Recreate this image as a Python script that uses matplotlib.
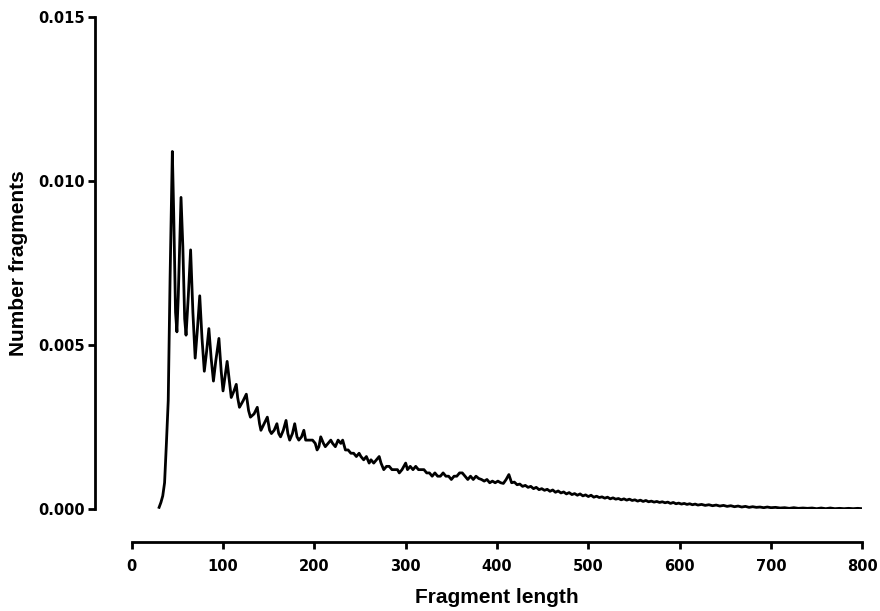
import matplotlib.pyplot as plt

# fragment length (bp) and fraction of fragments
# up to ~416 bp (nucleosome ladder region)
len_head = [30, 32, 34, 36, 38, 40, 42, 44.5, 46, 48, 49.5, 51, 54, 56, 58, 59.5,
            62, 64.5, 67, 69.5, 72, 74.5, 77, 79.5, 82, 84.5, 87, 89.5, 92, 95.5,
            98, 100, 102, 104.5, 107, 109, 112, 114.5, 116, 118, 122, 125.5, 128,
            130, 134, 137.5, 140, 141.5, 145, 148.5, 151, 153, 156, 159, 161, 163,
            166, 169, 171, 173, 176, 178.5, 181, 183, 186, 188.5, 190.5, 193, 196,
            198, 201, 203, 205, 207, 210, 212, 215, 218, 220, 223, 226, 229, 231,
            234, 237, 240, 243, 246, 249, 251, 254, 257, 260, 262, 265, 268, 271,
            273, 276, 279, 282, 285, 288, 291, 293, 296, 300, 302, 305, 308, 311,
            314, 317, 320, 323, 326, 329, 332, 335, 338, 341, 344, 347, 350, 353,
            356, 359, 362, 365, 368, 371, 374, 377, 380, 383, 386, 389, 392, 395,
            398, 401, 404, 407, 410, 413, 416]
frac_head = [0.00005, 0.0002, 0.0004, 0.0008, 0.0020, 0.0033, 0.0070, 0.0109, 0.0090,
             0.0060, 0.0054, 0.0065, 0.0095, 0.0080, 0.0058, 0.0053, 0.0065, 0.0079,
             0.0060, 0.0046, 0.0055, 0.0065, 0.0052, 0.0042, 0.0048, 0.0055, 0.0046,
             0.0039, 0.0045, 0.0052, 0.0042, 0.0036, 0.0040, 0.0045, 0.0039, 0.0034,
             0.0036, 0.0038, 0.0034, 0.0031, 0.0033, 0.0035, 0.0030, 0.0028, 0.0029,
             0.0031, 0.0026, 0.0024, 0.0026, 0.0028, 0.0024, 0.0023, 0.0024, 0.0026,
             0.0023, 0.0022, 0.0024, 0.0027, 0.0023, 0.0021, 0.0023, 0.0026, 0.0022,
             0.0021, 0.0022, 0.0024, 0.0021, 0.0021, 0.0021, 0.0021, 0.0020, 0.0018,
             0.0019, 0.0022, 0.0020, 0.0019, 0.0020, 0.0021, 0.0020, 0.0019, 0.0021,
             0.0020, 0.0021, 0.0018, 0.0018, 0.0017, 0.0017, 0.0016, 0.0017, 0.0016,
             0.0015, 0.0016, 0.0014, 0.0015, 0.0014, 0.0015, 0.0016, 0.0014, 0.0012,
             0.0013, 0.0013, 0.0012, 0.0012, 0.0012, 0.0011, 0.0012, 0.0014, 0.0012,
             0.0013, 0.0012, 0.0013, 0.0012, 0.0012, 0.0012, 0.0011, 0.0011, 0.0010,
             0.0011, 0.0010, 0.0010, 0.0011, 0.0010, 0.0010, 0.0009, 0.0010, 0.0010,
             0.0011, 0.0011, 0.0010, 0.0009, 0.0010, 0.0009, 0.0010, 0.00093, 0.0009,
             0.00085, 0.0009, 0.0008, 0.00085, 0.0008, 0.00085, 0.0008, 0.00078,
             0.0009, 0.00105, 0.0008]
# long-fragment tail
len_tail = [419, 422, 425, 428, 431, 434, 437, 440, 443, 446, 449, 452, 455, 458,
            461, 464, 467, 470, 473, 476, 479, 482, 485, 488, 491, 494, 497, 500,
            503, 506, 509, 512, 515, 518, 521, 524, 527, 530, 533, 536, 539, 542,
            545, 548, 551, 554, 557, 560, 563, 566, 569, 572, 575, 578, 581, 584,
            587, 590, 593, 596, 599, 602, 605, 608, 611, 614, 617, 620, 624, 628,
            632, 636, 640, 644, 648, 652, 656, 660, 664, 668, 672, 676, 680, 684,
            688, 692, 696, 700, 705, 710, 715, 720, 725, 730, 735, 740, 745, 750,
            755, 760, 765, 770, 775, 780, 785, 790, 795, 800]
frac_tail = [0.00082, 0.00074, 0.00076, 0.00069, 0.00072, 0.00066, 0.00069, 0.00062,
             0.00066, 0.00059, 0.00062, 0.00057, 0.0006, 0.00054, 0.00058, 0.00051,
             0.00055, 0.00049, 0.00052, 0.00046, 0.0005, 0.00044, 0.00047, 0.00042,
             0.00046, 0.0004, 0.00043, 0.00038, 0.00042, 0.00036, 0.00039, 0.00035,
             0.00037, 0.00033, 0.00036, 0.00031, 0.00034, 0.0003, 0.00032, 0.00028,
             0.00031, 0.00027, 0.0003, 0.00026, 0.00028, 0.00024, 0.00027, 0.00023,
             0.00026, 0.00022, 0.00024, 0.00021, 0.00023, 0.0002, 0.00022, 0.00019,
             0.00021, 0.00017, 0.0002, 0.00016, 0.00018, 0.00015, 0.00017, 0.00014,
             0.00016, 0.00013, 0.00015, 0.00012, 0.00014, 0.00011, 0.00013, 0.0001,
             0.00012, 0.00009, 0.00011, 0.00008, 0.0001, 0.00007, 0.00009, 0.00006,
             0.00008, 0.00005, 0.00007, 0.00005, 0.00006, 0.00004, 0.00006, 0.00004,
             0.00005, 0.00003, 0.00004, 0.00002, 0.00004, 0.00002, 0.00003, 0.00002,
             0.00003, 0.00001, 0.00003, 0.00001, 0.00003, 0.00001, 0.00002, 0.00001,
             0.00002, 0.00001, 0.00002, 0.00001]

frag_len = len_head + len_tail
frac = frac_head + frac_tail

x_ticks = [0, 100, 200, 300, 400, 500, 600, 700, 800]
y_ticks = [0.000, 0.005, 0.010, 0.015]
y_tick_labels = ["0.000", "0.005", "0.010", "0.015"]

W, H = 880, 611
fig = plt.figure(figsize=(W / 100, H / 100), dpi=100)
ax = fig.add_axes([131.7 / W, 1 - 509 / H, (862.3 - 131.7) / W, (509 - 17) / H])

ax.plot(frag_len, frac, color="black", linewidth=2.0, solid_joinstyle="round")

ax.set_xlim(0, 800)
ax.set_ylim(0, 0.015)
ax.set_xticks(x_ticks)
ax.set_yticks(y_ticks)
ax.set_yticklabels(y_tick_labels)

for side in ["top", "right"]:
    ax.spines[side].set_visible(False)
ax.spines["left"].set_position(("outward", 26.4))
ax.spines["bottom"].set_position(("outward", 24.1))
for side in ["left", "bottom"]:
    ax.spines[side].set_linewidth(2)

ax.tick_params(axis="both", direction="out", length=5, width=2)
ax.tick_params(axis="x", pad=7)
ax.tick_params(axis="y", pad=2)
for lab in ax.get_xticklabels() + ax.get_yticklabels():
    lab.set_fontfamily("DejaVu Sans")
    lab.set_fontweight("bold")
    lab.set_fontsize(10.5)

ax.set_xlabel("Fragment length", fontfamily="Liberation Sans", fontweight="bold",
              fontsize=15, labelpad=10)
ax.set_ylabel("Number fragments", fontfamily="Liberation Sans", fontweight="bold",
              fontsize=15, labelpad=8)

fig.savefig("out.png", dpi=100)
